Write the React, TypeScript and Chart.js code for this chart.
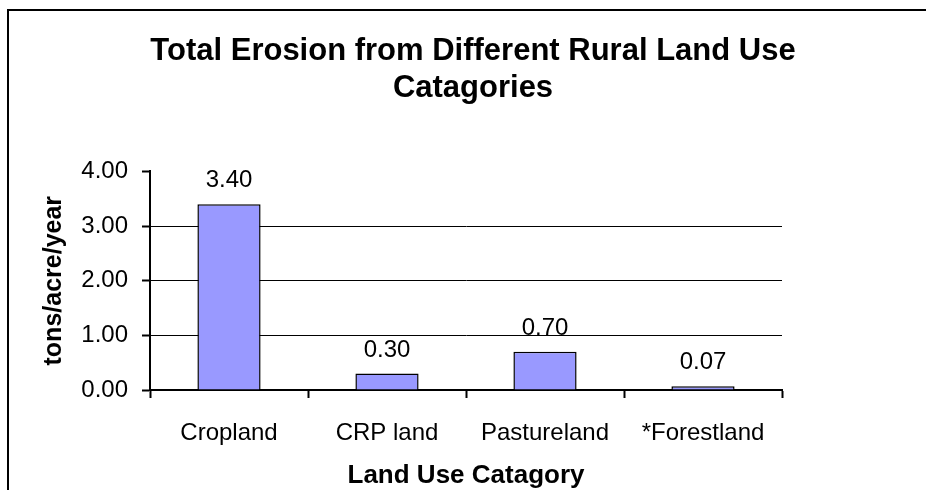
import React, { useEffect, useRef } from "react";
import { Chart, registerables } from "chart.js";

Chart.register(...registerables);

const categories = ["Cropland", "CRP land", "Pastureland", "*Forestland"];
const erosionValues = [3.4, 0.3, 0.7, 0.07];
const yTickValues = [0, 1, 2, 3, 4];
const titleLines = ["Total Erosion from Different Rural Land Use", "Catagories"];
const xAxisTitle = "Land Use Catagory";
const yAxisTitle = "tons/acre/year";

const FONT = "'Liberation Sans', Arial, sans-serif";

const framePlugin = {
  id: "frame",
  beforeDraw(chart: any) {
    const ctx = chart.ctx;
    ctx.save();
    ctx.fillStyle = "#ffffff";
    ctx.fillRect(0, 0, chart.width, chart.height);
    ctx.fillStyle = "#000000";
    ctx.fillRect(7, 9, chart.width - 7, 2);
    ctx.fillRect(7, 9, 2, chart.height - 9);
    ctx.restore();
  },
};

const labelPlugin = {
  id: "barLabels",
  afterDatasetsDraw(chart: any) {
    const ctx = chart.ctx;
    const meta = chart.getDatasetMeta(0);
    ctx.save();
    ctx.font = `24px ${FONT}`;
    ctx.fillStyle = "#000000";
    ctx.textAlign = "center";
    ctx.textBaseline = "alphabetic";
    meta.data.forEach((bar: any, i: number) => {
      const v = chart.data.datasets[0].data[i] as number;
      ctx.fillText(v.toFixed(2), bar.x, bar.y - 17);
    });
    ctx.restore();
  },
};

export default function App() {
  const canvasRef = useRef<HTMLCanvasElement | null>(null);

  useEffect(() => {
    if (!canvasRef.current) return;
    Chart.defaults.font.family = FONT;
    Chart.defaults.color = "#000000";
    const chart = new Chart(canvasRef.current, {
      type: "bar",
      data: {
        labels: categories,
        datasets: [
          {
            data: erosionValues,
            backgroundColor: "#9999FF",
            borderColor: "#000000",
            borderWidth: 1.5,
            categoryPercentage: 1,
            barPercentage: 0.4,
            yAxisID: "y",
          },
        ],
      },
      options: {
        responsive: false,
        animation: false,
        events: [],
        layout: { padding: { left: 20, right: 0, top: 0, bottom: 0 } },
        plugins: {
          legend: { display: false },
          tooltip: { enabled: false },
          title: {
            display: true,
            text: titleLines,
            color: "#000000",
            font: { family: FONT, size: 31, weight: "bold", lineHeight: 1.2 },
            padding: { top: 33, bottom: 64 },
          },
        },
        scales: {
          x: {
            type: "category",
            offset: true,
            grid: {
              display: true,
              offset: true,
              drawOnChartArea: false,
              drawTicks: true,
              tickLength: 8,
              tickWidth: 2,
              tickColor: "#000000",
            },
            border: { display: true, color: "#000000", width: 2 },
            ticks: {
              font: { family: FONT, size: 24 },
              color: "#000000",
              padding: 21,
              maxRotation: 0,
              autoSkip: false,
            },
            title: {
              display: true,
              text: xAxisTitle,
              color: "#000000",
              font: { family: FONT, size: 26, weight: "bold", lineHeight: 1.2 },
              padding: { top: 0, bottom: -1 },
            },
            afterFit(scale: any) {
              scale.height = 100;
            },
          },
          y: {
            type: "linear",
            position: "left",
            min: yTickValues[0],
            max: yTickValues[yTickValues.length - 1],
            afterBuildTicks(scale: any) {
              scale.ticks = yTickValues.map((v) => ({ value: v }));
            },
            grid: {
              display: true,
              drawOnChartArea: true,
              color: (c: any) =>
                c.tick && (c.tick.value === 4 || c.tick.value === 0) ? "rgba(0,0,0,0)" : "#000000",
              lineWidth: 1,
              tickLength: 8,
              tickWidth: 2,
              tickColor: "#000000",
            },
            border: { display: true, color: "#000000", width: 2 },
            ticks: {
              font: { family: FONT, size: 24 },
              color: "#000000",
              padding: 14,
              callback: (v: any) => Number(v).toFixed(2),
            },
            title: {
              display: true,
              text: yAxisTitle,
              color: "#000000",
              font: { family: FONT, size: 25, weight: "bold", lineHeight: 1.2 },
              padding: { top: 19, bottom: 0 },
            },
            afterFit(scale: any) {
              scale.width = 130;
            },
          },
          yRight: {
            type: "linear",
            position: "right",
            display: true,
            grid: { display: false },
            border: { display: false },
            ticks: { display: false },
            afterFit(scale: any) {
              scale.width = 144;
            },
          },
        },
      } as any,
      plugins: [framePlugin, labelPlugin],
    });
    return () => chart.destroy();
  }, []);

  return (
    <div style={{ position: "fixed", left: 0, top: 0, width: 926, height: 490 }}>
      <canvas ref={canvasRef} width={926} height={490} style={{ display: "block" }} />
    </div>
  );
}
